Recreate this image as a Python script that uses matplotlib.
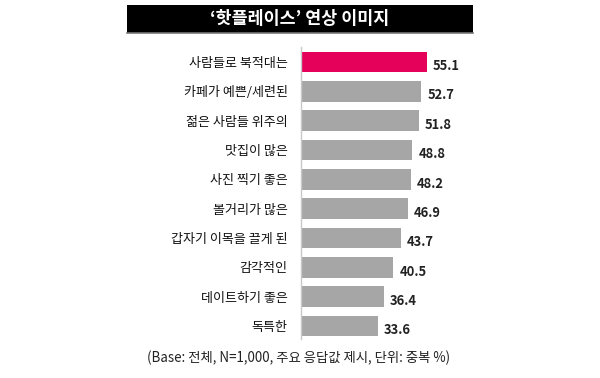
import matplotlib
matplotlib.use("Agg")
import matplotlib.pyplot as plt
from matplotlib.patches import Rectangle
from matplotlib.lines import Line2D

plt.rcParams['font.family'] = ['Noto Sans CJK KR', 'DejaVu Sans']

title = "‘핫플레이스’ 연상 이미지"
categories = ["사람들로 북적대는", "카페가 예쁜/세련된", "젊은 사람들 위주의", "맛집이 많은",
              "사진 찍기 좋은", "볼거리가 많은", "갑자기 이목을 끌게 된", "감각적인",
              "데이트하기 좋은", "독특한"]
values = [55.1, 52.7, 51.8, 48.8, 48.2, 46.9, 43.7, 40.5, 36.4, 33.6]
highlight = [True] + [False] * 9
footnote = "(Base: 전체, N=1,000, 주요 응답값 제시, 단위: 중복 %)"

W, H = 600, 378
fig = plt.figure(figsize=(W / 100, H / 100), dpi=100)
fig.patch.set_facecolor("white")

# title box
fig.patches.append(Rectangle((127.3 / W, 1 - 33.3 / H), 345.4 / W, 28.3 / H,
                             transform=fig.transFigure, facecolor="black",
                             edgecolor="none"))
fig.lines.append(Line2D([127.3 / W, 472.7 / W], [1 - 33.0 / H, 1 - 33.0 / H],
                        transform=fig.transFigure, color="#777777", lw=1.2))
fig.text(0.5, 1 - 19.5 / H, title, color="white", fontsize=12.5,
         fontweight="bold", ha="center", va="center")

ax_left, ax_right = 301 / W, 470 / W
ax_bottom, ax_top = 1 - 339 / H, 1 - 46.7 / H
ax = fig.add_axes([ax_left, ax_bottom, ax_right - ax_left, ax_top - ax_bottom])
ax.set_xlim(0, (470 - 301) / 2.281)
ax.set_ylim(9.44, -0.52)

pos = list(range(len(categories)))
colors = ["#E5005A" if h else "#A6A6A6" for h in highlight]
ax.barh(pos, values, height=0.70, color=colors, edgecolor="none")

for p, v in zip(pos, values):
    ax.annotate(f"{v:.1f}", xy=(v, p), xytext=(4.3, -3), textcoords="offset points",
                ha="left", va="center", fontsize=9.3, fontweight="bold",
                color="#222222")

ax.set_yticks(pos)
ax.set_yticklabels(categories, fontsize=9.4, color="#111111", fontweight="medium")
ax.tick_params(axis="y", length=0, pad=9.5)
ax.set_xticks([])
for s in ["top", "right", "bottom"]:
    ax.spines[s].set_visible(False)
ax.spines["left"].set_color("#C8C8C8")
ax.spines["left"].set_linewidth(1.0)
ax.patch.set_alpha(0)

fig.text(299 / W, 1 - 358 / H, footnote, fontsize=9.6, color="#222222",
         ha="center", va="center")

fig.savefig("out.png", dpi=100)
